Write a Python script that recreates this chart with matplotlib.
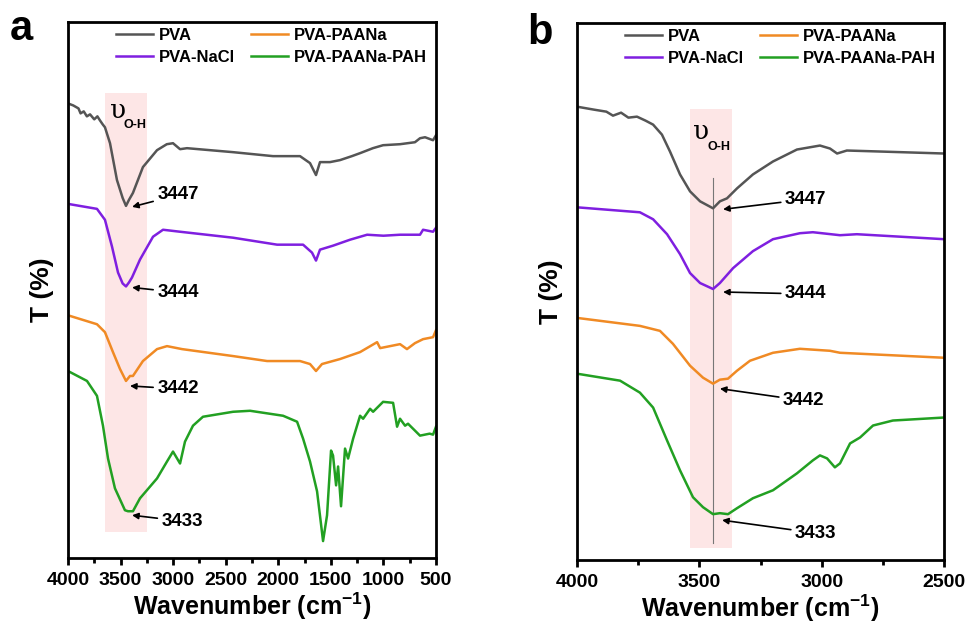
import numpy as np
import matplotlib.pyplot as plt
from matplotlib.ticker import MultipleLocator, NullLocator

plt.rcParams['font.family'] = ['Liberation Sans', 'DejaVu Sans']
plt.rcParams['font.weight'] = 'bold'
plt.rcParams['mathtext.fontset'] = 'custom'
plt.rcParams['mathtext.rm'] = 'Liberation Sans:bold'
plt.rcParams['mathtext.bf'] = 'Liberation Sans:bold'

# === colours ===
c_pva = '#555555'
c_nacl = '#7f1fe0'
c_paana = '#f08a24'
c_pah = '#22a022'

# === Panel a: full range spectra (offset, arbitrary units) ===
wn_pva_a = [4000, 3950, 3900, 3880, 3850, 3820, 3790, 3750, 3720, 3696, 3670, 3648, 3600, 3534,
            3480, 3448, 3420, 3382, 3287, 3153, 3060, 3001, 2934, 2868, 2430, 2050, 1793, 1698,
            1641, 1603, 1508, 1413, 1300, 1222, 1100, 1003, 842, 700, 652, 604, 528, 500]
t_pva_a = [457, 455, 452, 447, 449, 444, 446, 441, 444, 440, 436, 433, 417, 380,
           362, 354, 360, 367, 393, 410, 416, 417, 411, 412, 408, 404, 404, 397,
           385, 398, 398, 400, 404, 407, 412, 415, 416, 418, 422, 423, 420, 425]

wn_nacl_a = [4000, 3724, 3648, 3581, 3524, 3480, 3448, 3420, 3391, 3315, 3191, 3096, 2934, 2430,
             2011, 1764, 1679, 1641, 1603, 1479, 1317, 1155, 1000, 842, 652, 623, 528, 500]
t_nacl_a = [356, 351, 340, 313, 287, 276, 273, 277, 282, 300, 323, 330, 328, 322,
            315, 315, 307, 299, 310, 314, 320, 325, 324, 325, 325, 330, 328, 332]

wn_paana_a = [4000, 3724, 3648, 3572, 3505, 3448, 3410, 3382, 3287, 3153, 3058, 2915, 2430, 2106,
              1793, 1698, 1641, 1584, 1413, 1222, 1060, 1031, 842, 776, 700, 623, 528, 500]
t_paana_a = [244, 235, 227, 207, 190, 178, 183, 183, 198, 210, 213, 210, 203, 198,
             198, 195, 188, 195, 200, 207, 217, 211, 215, 210, 216, 220, 222, 229]

wn_pah_a = [4000, 3819, 3724, 3667, 3619, 3553, 3458, 3429, 3382, 3315, 3153, 3058, 3001, 2934,
            2887, 2811, 2716, 2430, 2268, 1954, 1821, 1764, 1698, 1631, 1574, 1536, 1498, 1479,
            1450, 1431, 1403, 1365, 1336, 1288, 1222, 1193, 1127, 1098, 1003, 908, 870, 842,
            794, 766, 652, 560, 528, 500]
t_pah_a = [188, 178, 163, 133, 100, 70, 48, 47, 47, 60, 80, 97, 107, 95,
           117, 133, 142, 147, 148, 143, 137, 120, 97, 67, 17, 43, 108, 103,
           73, 92, 52, 110, 100, 120, 143, 140, 150, 147, 157, 156, 132, 140,
           133, 135, 123, 125, 124, 132]

# === Panel b: O-H region ===
wn_pva_b = [4000, 3930, 3880, 3853, 3820, 3790, 3755, 3720, 3689, 3653, 3620, 3579, 3538, 3497,
            3444, 3416, 3387, 3346, 3281, 3199, 3101, 3007, 2966, 2937, 2897, 2762, 2500]
t_pva_b = [455, 452, 450, 446, 449, 444, 445, 441, 437, 427, 410, 387, 370, 360,
           353, 360, 363, 373, 387, 400, 412, 416, 413, 408, 411, 410, 408]

wn_nacl_b = [4000, 3743, 3689, 3632, 3579, 3538, 3497, 3444, 3416, 3362, 3281, 3199, 3089, 3036,
             2925, 2856, 2500]
t_nacl_b = [354, 349, 342, 327, 307, 288, 278, 272, 278, 293, 310, 322, 328, 329,
            326, 327, 322]

wn_paana_b = [4000, 3743, 3661, 3608, 3538, 3485, 3444, 3416, 3383, 3346, 3293, 3199, 3089, 2966,
              2925, 2500]
t_paana_b = [243, 235, 230, 217, 195, 183, 177, 181, 182, 190, 200, 208, 212, 210,
             208, 203]

wn_pah_b = [4000, 3824, 3743, 3689, 3632, 3579, 3526, 3485, 3444, 3416, 3383, 3346, 3281, 3199,
            3101, 3036, 3007, 2978, 2946, 2925, 2884, 2843, 2790, 2709, 2500]
t_pah_b = [187, 180, 168, 153, 120, 90, 63, 53, 46, 47, 46, 52, 62, 70,
           87, 100, 105, 102, 93, 97, 117, 123, 135, 140, 143]

# peak labels: label, arrow head (wn, T), text start (wn, T)
peaks_a = [(3447, 3390, 353, 3150, 365), (3444, 3390, 272, 3150, 267),
           (3442, 3410, 173, 3150, 170), (3433, 3390, 43, 3110, 37)]
peaks_b = [(3447, 3403, 352, 3150, 362), (3444, 3403, 269, 3150, 267),
           (3442, 3416, 172, 3158, 160), (3433, 3407, 40, 3109, 27)]

labels = ['PVA', 'PVA-NaCl', 'PVA-PAANa', 'PVA-PAANa-PAH']

fig = plt.figure(figsize=(9.68, 6.3), dpi=100)
ax_a = fig.add_axes([0.0702, 0.1143, 0.3802, 0.851])
ax_b = fig.add_axes([0.5961, 0.1111, 0.3791, 0.8524])


def style_axes(ax, xmin, xmax, major, minor):
    ax.set_xlim(xmin, xmax)
    ax.set_ylim(0, 539)
    ax.xaxis.set_major_locator(MultipleLocator(major))
    ax.xaxis.set_minor_locator(MultipleLocator(minor))
    ax.yaxis.set_major_locator(NullLocator())
    ax.tick_params(axis='x', which='major', direction='out', length=5, width=2,
                   labelsize=14, pad=5)
    ax.tick_params(axis='x', which='minor', direction='out', length=3.5, width=2)
    for lab in ax.get_xticklabels():
        lab.set_fontweight('bold')
    for s in ax.spines.values():
        s.set_linewidth(2)
    ax.set_xlabel('Wavenumber (cm$^{-1}$)', fontsize=18, fontweight='bold', labelpad=1)
    ax.set_ylabel('T (%)', fontsize=19, fontweight='bold', labelpad=10)


def add_peaks(ax, peaks):
    for lab, xh, yh, xt, yt in peaks:
        ax.annotate(str(lab), xy=(xh, yh), xytext=(xt, yt), fontsize=13.5,
                    fontweight='bold', va='center', ha='left',
                    arrowprops=dict(arrowstyle='-|>', color='black', lw=1.2,
                                    mutation_scale=9, shrinkA=1, shrinkB=0))


def add_legend(ax):
    hs = ax.get_lines()[:4]
    ax.legend(hs, labels, ncol=2, loc='upper left', bbox_to_anchor=(0.122, 0.995),
              frameon=False, handlelength=2.2, handletextpad=0.35, columnspacing=1.0,
              labelspacing=0.4, borderaxespad=0, borderpad=0.2,
              prop={'weight': 'bold', 'size': 12})


# ----- panel a -----
ax = ax_a
ax.axvspan(3648, 3248, ymin=26 / 539, ymax=467 / 539, color='#fde6e6', lw=0, zorder=0)
ax.plot(wn_pva_a, t_pva_a, color=c_pva, lw=1.8)
ax.plot(wn_nacl_a, t_nacl_a, color=c_nacl, lw=1.8)
ax.plot(wn_paana_a, t_paana_a, color=c_paana, lw=1.8)
ax.plot(wn_pah_a, t_pah_a, color=c_pah, lw=1.8)
style_axes(ax, 4000, 500, 500, 250)
add_peaks(ax, peaks_a)
add_legend(ax)
ax.text(3600, 450, 'υ', fontsize=19, family='DejaVu Serif', fontweight='normal', va='center')
ax.text(3470, 435, 'O-H', fontsize=9, fontweight='bold', va='center')

# ----- panel b -----
ax = ax_b
ax.axvspan(3538, 3367, ymin=12 / 539, ymax=453 / 539, color='#fde6e6', lw=0, zorder=0)
ax.plot(wn_pva_b, t_pva_b, color=c_pva, lw=1.8)
ax.plot(wn_nacl_b, t_nacl_b, color=c_nacl, lw=1.8)
ax.plot(wn_paana_b, t_paana_b, color=c_paana, lw=1.8)
ax.plot(wn_pah_b, t_pah_b, color=c_pah, lw=1.8)
ax.plot([3445, 3445], [17, 383], color='#777777', lw=0.8, zorder=1)
style_axes(ax, 4000, 2500, 500, 250)
add_peaks(ax, peaks_b)
add_legend(ax)
ax.text(3525, 430, 'υ', fontsize=19, family='DejaVu Serif', fontweight='normal', va='center')
ax.text(3465, 415, 'O-H', fontsize=9, fontweight='bold', va='center')

fig.text(0.010, 0.985, 'a', fontsize=30, fontweight='bold', va='top')
fig.text(0.545, 0.980, 'b', fontsize=30, fontweight='bold', va='top')

fig.savefig('out.png', dpi=100)
